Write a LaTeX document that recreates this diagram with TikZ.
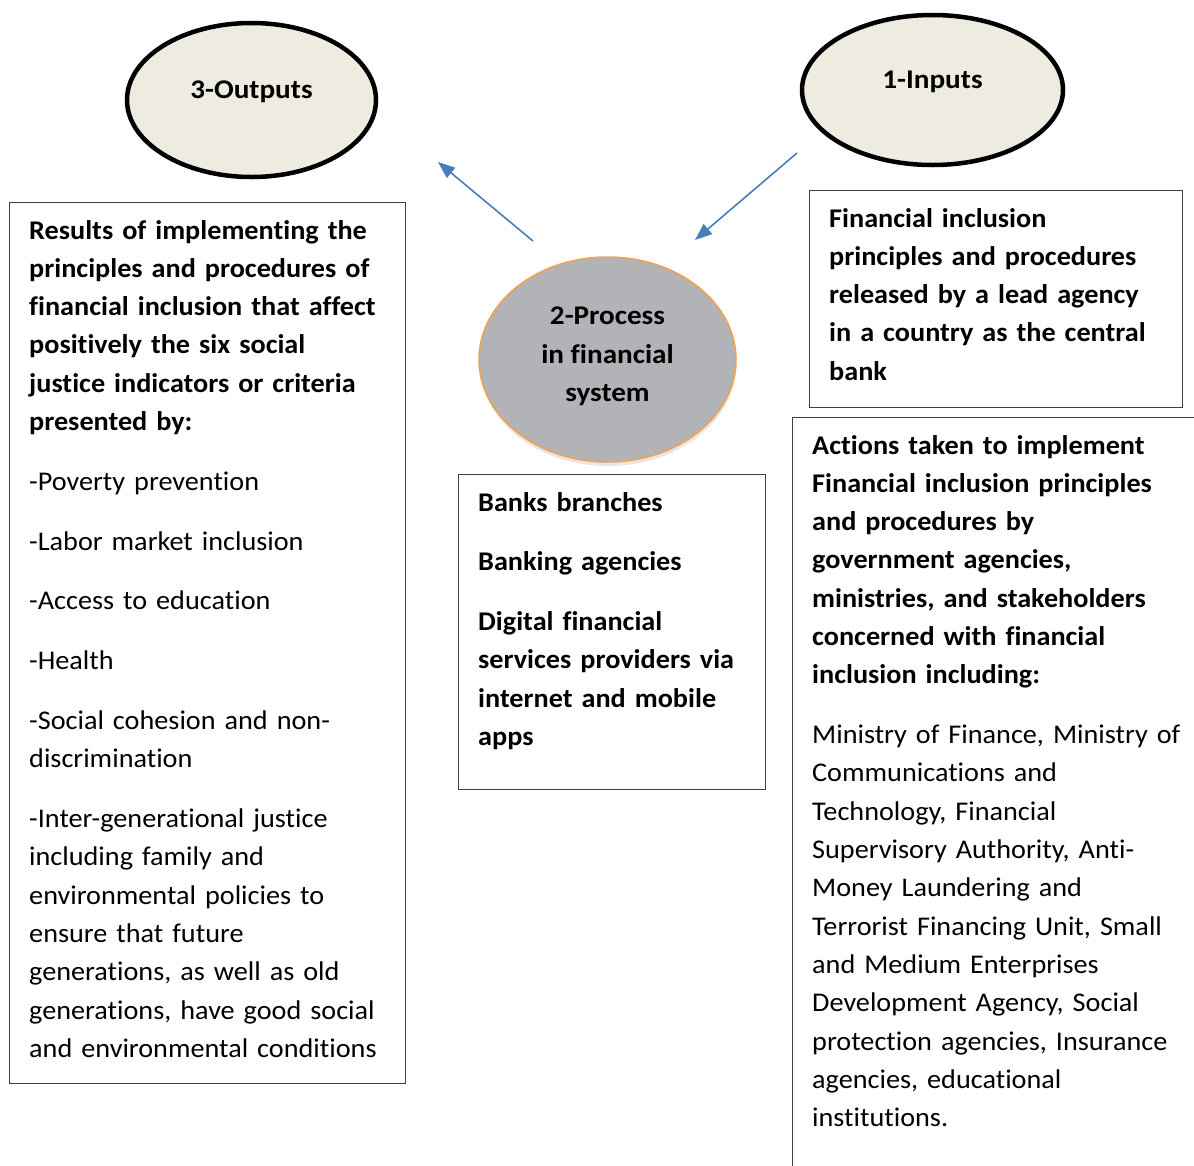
\documentclass[tikz,border=0pt]{standalone}
\usepackage{fontspec}
\setmainfont[Ligatures=NoCommon,FakeStretch=1.045]{Carlito}
\newfontfamily\ovalfont[Ligatures=NoCommon,FakeStretch=1.08]{Carlito}
\usetikzlibrary{positioning,shapes.geometric,arrows.meta,shadows}
\definecolor{ovalfill}{HTML}{EEEBE0}
\definecolor{procfill}{HTML}{B2B3B7}
\definecolor{procline}{HTML}{F4A047}
\definecolor{arrowblue}{HTML}{4A7EBB}
\definecolor{boxline}{HTML}{3F3F3F}
\begin{document}
\begin{tikzpicture}[x=1pt,y=-1pt,
    oval/.style={ellipse,draw=black,line width=4.5pt,fill=ovalfill,inner sep=0pt},
    procoval/.style={ellipse,draw=procline,line width=1.5pt,fill=procfill,inner sep=0pt,
      drop shadow={shadow xshift=0.5pt,shadow yshift=-4pt,opacity=0.2}},
    framebox/.style={draw=boxline,line width=1.3pt,inner sep=0pt,anchor=north west},
    boxtext/.style={align=left,inner sep=0pt,anchor=north west,
      font=\fontsize{27}{38.3}\selectfont},
    ovaltext/.style={align=center,inner sep=0pt,font=\ovalfont\bfseries\fontsize{27}{38.3}\selectfont},
    flow/.style={draw=arrowblue,line width=1.6pt,-{Triangle[length=17pt,width=13pt]}}]
    % Page
    \useasboundingbox (0,0) rectangle (1194,1165);
    \clip (0,0) rectangle (1194,1165);

    % Ovals
    \node[oval, minimum width=249pt, minimum height=154pt] (outputs) at (251.5,100) {};
    \node[oval, minimum width=261pt, minimum height=150pt] (inputs) at (932.5,90) {};
    \node[procoval, minimum width=257pt, minimum height=205pt] (process) at (607.5,359.5) {};
    \node[ovaltext] (outlbl) at ([shift={(0,-8)}]outputs.center) {3-Outputs};
    \node[ovaltext] (inlbl) at ([shift={(0,-8)}]inputs.center) {1-Inputs};
    \node[ovaltext] (proclbl) at ([shift={(0,-3)}]process.center) {2-Process\\in financial\\system};

    % Boxes
    \node[framebox, minimum width=396pt, minimum height=881pt] (outbox) at (9,202) {};
    \node[framebox, minimum width=373pt, minimum height=217pt] (inbox) at (809,190) {};
    \node[framebox, minimum width=307pt, minimum height=315pt] (procbox) at (458,474) {};
    \node[framebox, minimum width=440pt, minimum height=800pt] (actbox) at (792,417) {};

    \node[boxtext, text width=380pt, below right=10pt and 20pt of outbox.north west] (outtext)
      {\bfseries\strut Results of implementing the\\
       principles and procedures of\\
       financial inclusion that affect\\
       positively the six social\\
       justice indicators or criteria\\
       presented by:\\[21.5pt]
       \mdseries -Poverty prevention\\[21.5pt]
       -Labor market inclusion\\[21.5pt]
       -Access to education\\[21.5pt]
       -Health\\[21.5pt]
       -Social cohesion and non-\\
       discrimination\\[21.5pt]
       -Inter-generational justice\\
       including family and\\
       environmental policies to\\
       ensure that future\\
       generations, as well as old\\
       generations, have good social\\
       and environmental conditions};
    \node[boxtext, text width=360pt, below right=10pt and 20pt of inbox.north west] (intext)
      {\bfseries\strut Financial inclusion\\
       principles and procedures\\
       released by a lead agency\\
       in a country as the central\\
       bank};
    \node[boxtext, text width=300pt, below right=10pt and 20pt of procbox.north west] (proctext)
      {\bfseries\strut Banks branches\\[21.5pt]
       Banking agencies\\[21.5pt]
       Digital financial\\
       services providers via\\
       internet and mobile\\
       apps};
    \node[boxtext, text width=400pt, below right=10pt and 20pt of actbox.north west] (acttext)
      {\bfseries\strut Actions taken to implement\\
       Financial inclusion principles\\
       and procedures by\\
       government agencies,\\
       ministries, and stakeholders\\
       concerned with financial\\
       inclusion including:\\[21.5pt]
       \mdseries Ministry of Finance, Ministry of\\
       Communications and\\
       Technology, Financial\\
       Supervisory Authority, Anti-\\
       Money Laundering and\\
       Terrorist Financing Unit, Small\\
       and Medium Enterprises\\
       Development Agency, Social\\
       protection agencies, Insurance\\
       agencies, educational\\
       institutions.};

    % Arrows
    \coordinate (outfrom) at (533,241);
    \coordinate (outto) at (438,162);
    \coordinate (infrom) at (797,153);
    \coordinate (into) at (695,240);
    \draw[flow] (outfrom) -- (outto);
    \draw[flow] (infrom) -- (into);
\end{tikzpicture}
\end{document}
